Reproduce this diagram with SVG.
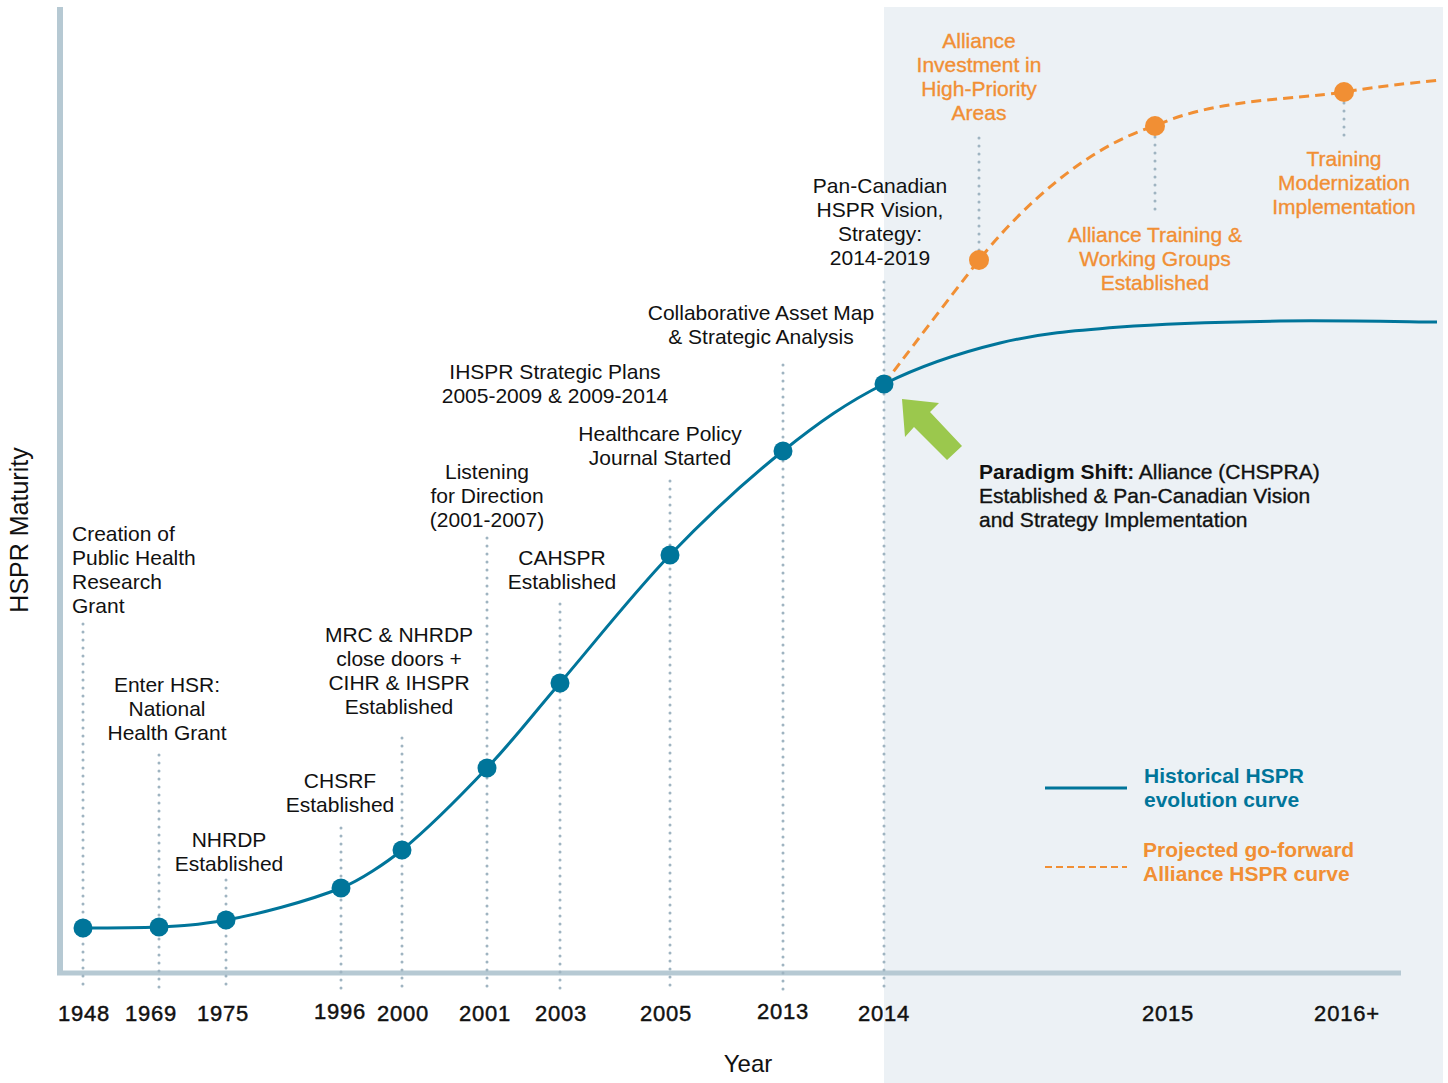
<svg xmlns="http://www.w3.org/2000/svg" width="1448" height="1083" viewBox="0 0 1448 1083">
<style>
.t{font-family:"Liberation Sans",Arial,sans-serif;font-size:21px;fill:#111;text-anchor:middle}
.l{text-anchor:start}
.o{fill:#F18F34;stroke:#F18F34;stroke-width:0.35}
.yr{font-family:"Liberation Sans",Arial,sans-serif;font-size:22px;fill:#111;stroke:#111;stroke-width:0.45;text-anchor:middle;letter-spacing:0.8px}
.dot{stroke:#9FB4C1;stroke-width:3;stroke-linecap:round;stroke-dasharray:0 8;fill:none}
.bd{fill:#00759A}
.od{fill:#F18F34}
.lg{font-family:"Liberation Sans",Arial,sans-serif;font-size:21px;font-weight:bold}
.pm{stroke:#111;stroke-width:0.35}
</style>
<rect width="1448" height="1083" fill="#fff"/>
<rect id="future-panel" x="884" y="7" width="559" height="1076" fill="#ECF1F5"/>
<g id="axes">
<line x1="60" y1="7" x2="60" y2="975" stroke="#B6C9D3" stroke-width="6"/>
<line x1="57" y1="973" x2="1401" y2="973" stroke="#B6C9D3" stroke-width="5"/>
<text class="t" style="font-size:25px" transform="translate(28,530) rotate(-90)">HSPR Maturity</text>
<text class="t" style="font-size:24px" x="748" y="1072">Year</text>
</g>
<g id="connectors">
<line class="dot" x1="83" y1="624" x2="83" y2="990"/>
<line class="dot" x1="159" y1="755" x2="159" y2="990"/>
<line class="dot" x1="226" y1="880" x2="226" y2="990"/>
<line class="dot" x1="341" y1="828" x2="341" y2="990"/>
<line class="dot" x1="402" y1="738" x2="402" y2="990"/>
<line class="dot" x1="487" y1="538" x2="487" y2="990"/>
<line class="dot" x1="560" y1="604" x2="560" y2="990"/>
<line class="dot" x1="670" y1="481" x2="670" y2="990"/>
<line class="dot" x1="783" y1="365" x2="783" y2="990"/>
<line class="dot" x1="884" y1="282" x2="884" y2="990"/>
<line class="dot" x1="979" y1="138" x2="979" y2="252"/>
<line class="dot" x1="1155" y1="137" x2="1155" y2="210"/>
<line class="dot" x1="1344" y1="103" x2="1344" y2="140"/>
<path id="historical-curve" d="M83,928 C95.7,928 135.2,928 159,927 C182.8,926 196,925.3 226,920 C256,914.7 305.7,902 341,888 C359.6,880.6 386.5,862.7 402,850 C432.9,824.6 460.7,795.8 487,768 C513.3,740.2 529.5,718.5 560,683 C590.5,647.5 632.8,593.7 670,555 C707.2,516.3 747.3,479.5 783,451 C818.7,422.5 847.8,402 884,384 C920.2,366 960.7,352.5 1000,343 C1039.3,333.5 1073.3,330.7 1120,327 C1166.7,323.3 1227.2,321.8 1280,321 C1332.8,320.2 1410.8,321.8 1437,322" fill="none" stroke="#00759A" stroke-width="3"/>
<path id="projected-curve" d="M884,384 C900,363 950,297 979,260 C1005,227 1075,150 1155,126 C1215.8,98 1296.5,99.7 1344,92 C1391.5,84.3 1424,82 1440,80" fill="none" stroke="#F18F34" stroke-width="3" stroke-dasharray="10 6"/>
<polygon id="shift-arrow" points="902,399 939,403 930,412 962,446 947,460 914,427 905,437" fill="#9BC84D"/>
</g>
<g id="n1948"><circle class="bd" cx="83" cy="928" r="9.5"/><text class="t l" x="72" y="541">Creation of</text><text class="t l" x="72" y="565">Public Health</text><text class="t l" x="72" y="589">Research</text><text class="t l" x="72" y="613">Grant</text><text class="yr" x="84" y="1021">1948</text></g>
<g id="n1969"><circle class="bd" cx="159" cy="927" r="9.5"/><text class="t" x="167" y="692">Enter HSR:</text><text class="t" x="167" y="716">National</text><text class="t" x="167" y="740">Health Grant</text><text class="yr" x="151" y="1021">1969</text></g>
<g id="n1975"><circle class="bd" cx="226" cy="920" r="9.5"/><text class="t" x="229" y="847">NHRDP</text><text class="t" x="229" y="871">Established</text><text class="yr" x="223" y="1021">1975</text></g>
<g id="n1996"><circle class="bd" cx="341" cy="888" r="9.5"/><text class="t" x="340" y="788">CHSRF</text><text class="t" x="340" y="812">Established</text><text class="yr" x="340" y="1019">1996</text></g>
<g id="n2000"><circle class="bd" cx="402" cy="850" r="9.5"/><text class="t" x="399" y="642">MRC &amp; NHRDP</text><text class="t" x="399" y="666">close doors +</text><text class="t" x="399" y="690">CIHR &amp; IHSPR</text><text class="t" x="399" y="714">Established</text><text class="yr" x="403" y="1021">2000</text></g>
<g id="n2001"><circle class="bd" cx="487" cy="768" r="9.5"/><text class="t" x="487" y="479">Listening</text><text class="t" x="487" y="503">for Direction</text><text class="t" x="487" y="527">(2001-2007)</text><text class="yr" x="485" y="1021">2001</text></g>
<g id="n2003"><circle class="bd" cx="560" cy="683" r="9.5"/><text class="t" x="562" y="565">CAHSPR</text><text class="t" x="562" y="589">Established</text><text class="t" x="555" y="379">IHSPR Strategic Plans</text><text class="t" x="555" y="403">2005-2009 &amp; 2009-2014</text><text class="yr" x="561" y="1021">2003</text></g>
<g id="n2005"><circle class="bd" cx="670" cy="555" r="9.5"/><text class="t" x="660" y="441">Healthcare Policy</text><text class="t" x="660" y="465">Journal Started</text><text class="yr" x="666" y="1021">2005</text></g>
<g id="n2013"><circle class="bd" cx="783" cy="451" r="9.5"/><text class="t" x="761" y="320">Collaborative Asset Map</text><text class="t" x="761" y="344">&amp; Strategic Analysis</text><text class="yr" x="783" y="1019">2013</text></g>
<g id="n2014"><circle class="bd" cx="884" cy="384" r="9.5"/><text class="t" x="880" y="193">Pan-Canadian</text><text class="t" x="880" y="217">HSPR Vision,</text><text class="t" x="880" y="241">Strategy:</text><text class="t" x="880" y="265">2014-2019</text><text class="yr" x="884" y="1021">2014</text></g>
<g id="paradigm"><text class="t l pm" x="979" y="479"><tspan font-weight="bold" style="stroke:none">Paradigm Shift:</tspan> Alliance (CHSPRA)</text><text class="t l pm" x="979" y="503">Established &amp; Pan-Canadian Vision</text><text class="t l pm" x="979" y="527">and Strategy Implementation</text></g>
<g id="p1"><circle class="od" cx="979" cy="260" r="10"/><text class="t o" x="979" y="48">Alliance</text><text class="t o" x="979" y="72">Investment in</text><text class="t o" x="979" y="96">High-Priority</text><text class="t o" x="979" y="120">Areas</text></g>
<g id="p2"><circle class="od" cx="1155" cy="126" r="10"/><text class="t o" x="1155" y="242">Alliance Training &amp;</text><text class="t o" x="1155" y="266">Working Groups</text><text class="t o" x="1155" y="290">Established</text><text class="yr" x="1168" y="1021">2015</text></g>
<g id="p3"><circle class="od" cx="1344" cy="92" r="10"/><text class="t o" x="1344" y="166">Training</text><text class="t o" x="1344" y="190">Modernization</text><text class="t o" x="1344" y="214">Implementation</text><text class="yr" x="1347" y="1021">2016+</text></g>
<g id="legend">
<line x1="1045" y1="788" x2="1127" y2="788" stroke="#00759A" stroke-width="3"/>
<text class="lg" x="1144" y="783" fill="#00759A">Historical HSPR</text>
<text class="lg" x="1144" y="807" fill="#00759A">evolution curve</text>
<line x1="1045" y1="867" x2="1127" y2="867" stroke="#F18F34" stroke-width="2" stroke-dasharray="7 4"/>
<text class="lg" x="1143" y="857" fill="#F18F34">Projected go-forward</text>
<text class="lg" x="1143" y="881" fill="#F18F34">Alliance HSPR curve</text>
</g>
</svg>
